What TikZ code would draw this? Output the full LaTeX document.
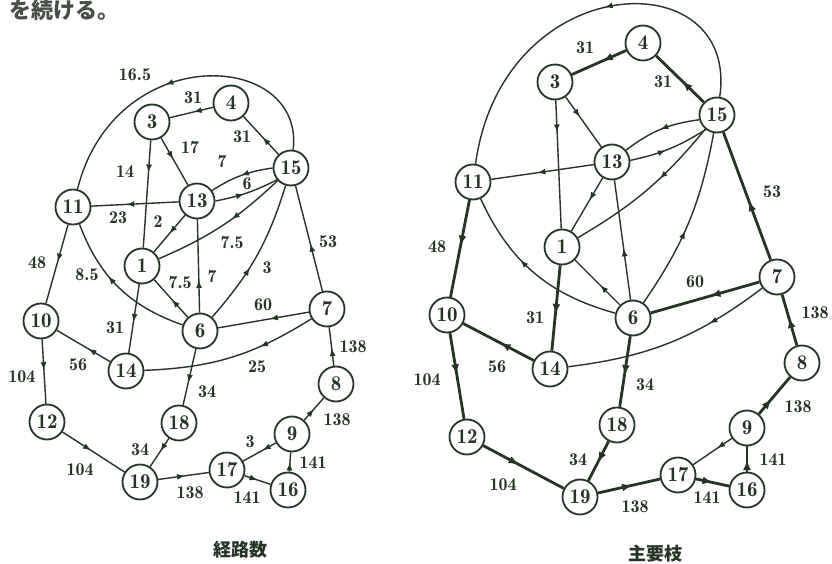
\documentclass[tikz,border=0pt]{standalone}
\usepackage{fontspec}
\newfontfamily\jp{Noto Sans CJK JP}
\newfontfamily\numfont{lmromandemi10-regular.otf}
\usetikzlibrary{arrows.meta,decorations.markings}
\definecolor{ink}{RGB}{38,52,38}
\definecolor{graytext}{RGB}{70,78,70}

\tikzset{
  nd/.style={circle, draw=ink, line width=1.8pt, minimum size=35pt, inner sep=0pt,
             fill=white, text=ink, font=\numfont\fontsize{21}{21}\selectfont},
  ed/.style={draw=ink, line width=1.4pt},
  mainedge/.style={draw=ink, line width=2.8pt},
  ar/.style={postaction={decorate, decoration={markings,
      mark=at position #1 with {\arrow[ink]{Latex[length=8pt,width=6pt]}}}}},
  ar/.default=0.5,
  bigar/.style={postaction={decorate, decoration={markings,
      mark=at position #1 with {\arrow[ink]{Latex[length=10pt,width=8pt]}}}}},
  bigar/.default=0.5,
  lb/.style={font=\numfont\fontsize{18}{18}\selectfont, text=ink, inner sep=0pt},
  captext/.style={font=\jp\bfseries\fontsize{18}{18}\selectfont, text=ink, inner sep=0pt},
}

\begin{document}
\begin{tikzpicture}[x=1pt,y=-1pt]
\useasboundingbox[fill=white] (0,0) rectangle (832,564);

% running text at the top edge
\node[font=\jp\bfseries\fontsize{22}{22}\selectfont, text=graytext, anchor=base west, inner sep=0pt] (toptext) at (9,19) {を続ける。};

% ---------------- left graph: path counts ----------------
\node[nd] (L3)  at (152,122) {3};
\node[nd] (L4)  at (231,103) {4};
\node[nd] (L15) at (291,168) {15};
\node[nd] (L11) at (73,207)  {11};
\node[nd] (L13) at (197,201) {13};
\node[nd] (L1)  at (142,266) {1};
\node[nd] (L10) at (41,321)  {10};
\node[nd] (L14) at (126,371) {14};
\node[nd] (L6)  at (200,331) {6};
\node[nd] (L7)  at (327,309) {7};
\node[nd] (L8)  at (336,384) {8};
\node[nd] (L12) at (47,422)  {12};
\node[nd] (L18) at (179,423) {18};
\node[nd] (L19) at (140,482) {19};
\node[nd] (L9)  at (292,434) {9};
\node[nd] (L17) at (227,470) {17};
\node[nd] (L16) at (288,490) {16};

\draw[ed,ar=0.55] (L15) .. controls (305,50) and (115,40) .. (L11);
\draw[ed,ar=0.45] (L4) -- (L3);
\draw[ed,ar=0.45] (L15) -- (L4);
\draw[ed,ar=0.45] (L3) -- (L13);
\draw[ed,ar=0.3] (L3) -- (L1);
\draw[ed,ar=0.5] (L15.180) to[bend right=12] (L13.35);
\draw[ed,ar=0.45] (L13.0) to[bend right=8] (L15.220);
\draw[ed,ar=0.6] (L13) -- (L11);
\draw[ed,ar=0.5] (L13) -- (L1);
\draw[ed,ar=0.42] (L15) to[bend left=10] (L1);
\draw[ed,ar=0.47] (L6) -- (L1);
\draw[ed,ar=0.35] (L6) -- (L13);
\draw[ed,ar=0.41] (L6) to[bend right=12] (L15);
\draw[ed,ar=0.6] (L6) to[bend left=25] (L11);
\draw[ed,ar=0.45] (L7) -- (L15);
\draw[ed,ar=0.43] (L7) -- (L6);
\draw[ed,ar=0.33] (L7) to[bend left=15] (L14);
\draw[ed,ar=0.55] (L1) -- (L14);
\draw[ed,ar=0.41] (L14) -- (L10);
\draw[ed,ar=0.47] (L11) -- (L10);
\draw[ed,ar=0.48] (L10) -- (L12);
\draw[ed,ar=0.46] (L12) -- (L19);
\draw[ed,ar=0.45] (L18) -- (L19);
\draw[ed,ar=0.6] (L6) -- (L18);
\draw[ed,ar=0.53] (L19) -- (L17);
\draw[ed,ar=0.5] (L17) -- (L16);
\draw[ed,ar=0.48] (L16) -- (L9);
\draw[ed,ar=0.4] (L9) -- (L17);
\draw[ed,ar=0.5] (L9) -- (L8);
\draw[ed,ar=0.46] (L8) -- (L7);

\node[lb] (la1)  at (135,75)  {16.5};
\node[lb] (la2)  at (193,98)  {31};
\node[lb] (la3)  at (242,137) {31};
\node[lb] (la4)  at (190,148) {17};
\node[lb] (la5)  at (125,172) {14};
\node[lb] (la6)  at (222,162) {7};
\node[lb] (la7)  at (247,184) {6};
\node[lb] (la8)  at (118,218) {23};
\node[lb] (la9)  at (158,222) {2};
\node[lb] (la10) at (232,243) {7.5};
\node[lb] (la11) at (180,283) {7.5};
\node[lb] (la12) at (212,277) {7};
\node[lb] (la13) at (267,268) {3};
\node[lb] (la14) at (87,275)  {8.5};
\node[lb] (la15) at (328,242) {53};
\node[lb] (la16) at (263,305) {60};
\node[lb] (la17) at (257,367) {25};
\node[lb] (la18) at (115,328) {31};
\node[lb] (la19) at (78,365)  {56};
\node[lb] (la20) at (37,263)  {48};
\node[lb] (la21) at (22,377)  {104};
\node[lb] (la22) at (80,470)  {104};
\node[lb] (la23) at (140,450) {34};
\node[lb] (la24) at (207,392) {34};
\node[lb] (la25) at (190,493) {138};
\node[lb] (la26) at (247,498) {141};
\node[lb] (la27) at (313,463) {141};
\node[lb] (la28) at (250,442) {3};
\node[lb] (la29) at (337,420) {138};
\node[lb] (la30) at (353,347) {138};

\node[captext] (capL) at (240,550) {経路数};

% ---------------- right graph: main branches ----------------
\node[nd] (R3)  at (555,82)  {3};
\node[nd] (R4)  at (643,43)  {4};
\node[nd] (R15) at (717,115) {15};
\node[nd] (R11) at (473,182) {11};
\node[nd] (R13) at (612,162) {13};
\node[nd] (R1)  at (562,247) {1};
\node[nd] (R10) at (447,315) {10};
\node[nd] (R14) at (550,369) {14};
\node[nd] (R6)  at (633,318) {6};
\node[nd] (R7)  at (777,277) {7};
\node[nd] (R8)  at (802,363) {8};
\node[nd] (R12) at (467,437) {12};
\node[nd] (R18) at (617,425) {18};
\node[nd] (R19) at (580,497) {19};
\node[nd] (R9)  at (747,428) {9};
\node[nd] (R17) at (678,475) {17};
\node[nd] (R16) at (747,490) {16};

% minor branches
\draw[ed,ar=0.45] (R15) .. controls (740,-40) and (503,-33) .. (R11);
\draw[ed,ar=0.4] (R3) -- (R13);
\draw[ed,ar=0.25] (R3) -- (R1);
\draw[ed,ar=0.55] (R13) -- (R11);
\draw[ed,ar=0.42] (R13) -- (R1);
\draw[ed,ar=0.5] (R15.195) to[bend right=15] (R13.40);
\draw[ed,ar=0.45] (R13.5) to[bend right=10] (R15.232);
\draw[ed,ar=0.4] (R15) to[bend left=10] (R1);
\draw[ed,ar=0.43] (R6) -- (R13);
\draw[ed,ar=0.45] (R6) to[bend right=12] (R15);
\draw[ed,ar=0.44] (R6) -- (R1);
\draw[ed,ar=0.6] (R6) to[bend left=25] (R11);
\draw[ed,ar=0.3] (R7) to[bend left=15] (R14);
\draw[ed,ar=0.38] (R9) -- (R17);

% main branches
\draw[mainedge,bigar=0.43] (R4) -- (R3);
\draw[mainedge,bigar=0.45] (R15) -- (R4);
\draw[mainedge,bigar=0.46] (R7) -- (R15);
\draw[mainedge,bigar=0.45] (R7) -- (R6);
\draw[mainedge,bigar=0.57] (R1) -- (R14);
\draw[mainedge,bigar=0.47] (R14) -- (R10);
\draw[mainedge,bigar=0.47] (R11) -- (R10);
\draw[mainedge,bigar=0.48] (R10) -- (R12);
\draw[mainedge,bigar=0.44] (R12) -- (R19);
\draw[mainedge,bigar=0.53] (R18) -- (R19);
\draw[mainedge,bigar=0.55] (R6) -- (R18);
\draw[mainedge,bigar=0.55] (R19) -- (R17);
\draw[mainedge,bigar=0.5] (R17) -- (R16);
\draw[mainedge,bigar=0.46] (R16) -- (R9);
\draw[mainedge,bigar=0.4] (R9) -- (R8);
\draw[mainedge,bigar=0.54] (R8) -- (R7);

\node[lb] (lb1)  at (585,48)  {31};
\node[lb] (lb2)  at (663,82)  {31};
\node[lb] (lb3)  at (772,192) {53};
\node[lb] (lb4)  at (437,247) {48};
\node[lb] (lb5)  at (535,318) {31};
\node[lb] (lb6)  at (497,367) {56};
\node[lb] (lb7)  at (427,380) {104};
\node[lb] (lb8)  at (503,485) {104};
\node[lb] (lb9)  at (578,460) {34};
\node[lb] (lb10) at (695,282) {60};
\node[lb] (lb11) at (815,313) {138};
\node[lb] (lb12) at (645,385) {34};
\node[lb] (lb13) at (798,407) {138};
\node[lb] (lb14) at (773,460) {141};
\node[lb] (lb15) at (707,498) {141};
\node[lb] (lb16) at (635,507) {138};

\node[captext] (capR) at (655,554) {主要枝};
\end{tikzpicture}
\end{document}
